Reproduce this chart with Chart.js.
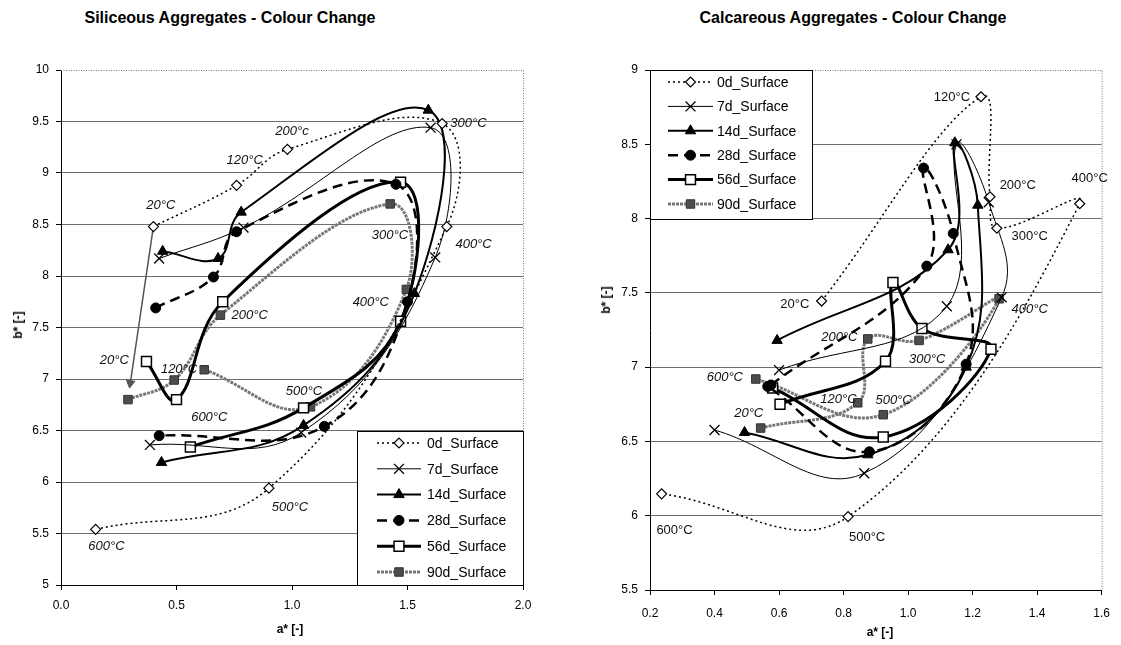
<!DOCTYPE html>
<html lang="en">
<head>
<meta charset="UTF-8" />
<title>Aggregates - Colour Change</title>
<script src="https://cdn.jsdelivr.net/npm/chart.js"></script>
<style>
  body { margin: 0; background: #fff; font-family: "Liberation Sans", Arial, sans-serif; }
  #wrap { position: relative; width: 1121px; height: 645px; overflow: hidden; }
  canvas { position: absolute; top: 0; }
  .ttl { position: absolute; font-weight: bold; font-size: 16px; line-height: 18px; white-space: nowrap; transform: translateX(-50%); }
  .ax { position: absolute; font-weight: bold; font-size: 12px; line-height: 14px; white-space: nowrap; transform: translate(-50%, -50%); }
  .ax.rot { transform: translate(-50%, -50%) rotate(-90deg); }
</style>
</head>
<body>
<div id="wrap">
  <div class="ttl" style="left:230px;top:9px">Siliceous Aggregates - Colour Change</div>
  <div class="ttl" style="left:853px;top:9px">Calcareous Aggregates - Colour Change</div>
  <canvas id="sil" width="560" height="645" style="left:0"></canvas>
  <canvas id="cal" width="561" height="645" style="left:560px"></canvas>
  <div class="ax rot" style="left:18px;top:325px">b* [-]</div>
  <div class="ax" style="left:290px;top:629px">a* [-]</div>
  <div class="ax rot" style="left:606px;top:300px">b* [-]</div>
  <div class="ax" style="left:880px;top:632px">a* [-]</div>
</div>

<script>
// series names (curing age of the surface samples)
const seriesNames = ["0d_Surface", "7d_Surface", "14d_Surface", "28d_Surface", "56d_Surface", "90d_Surface"];

// ---- Siliceous aggregates: a* / b* per heating step (20 -> 600 °C) ----
const silA0d = [0.40, 0.76, 0.98, 1.65, 1.67, 0.90, 0.15];
const silB0d = [8.48, 8.88, 9.23, 9.48, 8.48, 5.94, 5.54];
const silA7d = [0.425, 0.79, 1.60, 1.62, 1.04, 0.385];
const silB7d = [8.17, 8.47, 9.44, 8.18, 6.48, 6.36];
const silA14d = [0.44, 0.68, 0.78, 1.59, 1.53, 1.05, 0.435];
const silB14d = [8.24, 8.17, 8.62, 9.61, 7.83, 6.55, 6.19];
const silA28d = [0.41, 0.66, 0.76, 1.45, 1.50, 1.14, 0.425];
const silB28d = [7.69, 7.99, 8.43, 8.89, 7.75, 6.54, 6.45];
const silA56d = [0.37, 0.50, 0.70, 1.47, 1.47, 1.05, 0.56];
const silB56d = [7.17, 6.80, 7.75, 8.91, 7.56, 6.72, 6.34];
const silA90d = [0.29, 0.49, 0.69, 1.425, 1.495, 1.08, 0.62];
const silB90d = [6.80, 6.99, 7.62, 8.70, 7.87, 6.73, 7.09];
const silArrowA = [0.40, 0.30];
const silArrowB = [8.48, 6.96];

const silLabelText = ["20°C", "120°C", "200°c", "300°C", "300°C", "400°C", "400°C", "20°C", "120°C", "200°C", "600°C", "500°C", "500°C", "600°C"];
const silLabelA = [0.432, 0.795, 1.00, 1.764, 1.424, 1.786, 1.341, 0.231, 0.511, 0.817, 0.642, 1.052, 0.991, 0.197];
const silLabelB = [8.69, 9.12, 9.40, 9.48, 8.39, 8.31, 7.74, 7.18, 7.09, 7.62, 6.63, 6.88, 5.75, 5.37];

// ---- Calcareous aggregates ----
const calA0d = [0.732, 1.226, 1.254, 1.275, 1.532, 0.814, 0.236];
const calB0d = [7.445, 8.82, 8.147, 7.935, 8.10, 5.994, 6.147];
const calA7d = [0.60, 1.12, 1.15, 1.25, 1.29, 0.864, 0.40];
const calB7d = [6.98, 7.41, 8.50, 8.11, 7.47, 6.286, 6.577];
const calA14d = [0.594, 1.124, 1.145, 1.216, 1.18, 0.875, 0.493];
const calB14d = [7.18, 7.79, 8.51, 8.09, 7.00, 6.41, 6.56];
const calA28d = [0.575, 1.058, 1.048, 1.14, 1.18, 0.88, 0.565];
const calB28d = [6.88, 7.68, 8.34, 7.90, 7.02, 6.43, 6.87];
const calA56d = [0.603, 0.93, 0.953, 1.043, 1.257, 0.923, 0.58];
const calB56d = [6.75, 7.04, 7.57, 7.26, 7.12, 6.53, 6.86];
const calA90d = [0.543, 0.844, 0.875, 1.034, 1.282, 0.923, 0.528];
const calB90d = [6.59, 6.76, 7.19, 7.18, 7.46, 6.68, 6.92];

const calLabelText = ["120°C", "200°C", "400°C", "300°C", "20°C", "200°C", "600°C", "120°C", "500°C", "300°C", "400°C", "20°C", "600°C", "500°C"];
const calLabelA = [1.136, 1.340, 1.563, 1.377, 0.649, 0.787, 0.432, 0.784, 0.955, 1.059, 1.377, 0.506, 0.276, 0.873];
const calLabelB = [8.818, 8.226, 8.273, 7.883, 7.419, 7.203, 6.934, 6.786, 6.779, 7.055, 7.392, 6.692, 5.898, 5.851];
const calLabelItalic = [0, 0, 0, 0, 0, 1, 1, 1, 1, 1, 1, 1, 0, 0];

const FONT = '"Liberation Sans", Arial, sans-serif';

// line + marker look of each series
const seriesStyles = [
  { borderColor: "#000", borderWidth: 1.5, borderDash: [2, 3], pointStyle: "rectRot", pointRadius: 5, pointBackgroundColor: "#fff", pointBorderColor: "#000", pointBorderWidth: 1.2 },
  { borderColor: "#000", borderWidth: 1, borderDash: [], pointStyle: "crossRot", pointRadius: 7, pointBackgroundColor: "#000", pointBorderColor: "#000", pointBorderWidth: 1.3 },
  { borderColor: "#000", borderWidth: 2, borderDash: [], pointStyle: "triangle", pointRadius: 6, pointBackgroundColor: "#000", pointBorderColor: "#000", pointBorderWidth: 1 },
  { borderColor: "#000", borderWidth: 2.5, borderDash: [10, 6], pointStyle: "circle", pointRadius: 5, pointBackgroundColor: "#000", pointBorderColor: "#000", pointBorderWidth: 1 },
  { borderColor: "#000", borderWidth: 3, borderDash: [], pointStyle: "rect", pointRadius: 7, pointBackgroundColor: "#fff", pointBorderColor: "#000", pointBorderWidth: 1.5 },
  { borderColor: "#777", borderWidth: 3, borderDash: [3, 1], pointStyle: "rect", pointRadius: 6, pointBackgroundColor: "#4d4d4d", pointBorderColor: "#333", pointBorderWidth: 1 },
];

function toPoints(as, bs) {
  return as.map((a, i) => ({ x: a, y: bs[i] }));
}

function buildSeries(aLists, bLists) {
  return seriesNames.map((name, i) => ({
    label: name,
    data: toPoints(aLists[i], bLists[i]),
    showLine: true,
    tension: 0.4,
    ...seriesStyles[i],
    pointHoverRadius: seriesStyles[i].pointRadius,
  }));
}

// dotted frame on top / right edge of the plot area
const framePlugin = {
  id: "frame",
  beforeDatasetsDraw(chart) {
    const { ctx, chartArea: { left, right, top, bottom } } = chart;
    ctx.save();
    ctx.strokeStyle = "#777";
    ctx.lineWidth = 1;
    ctx.setLineDash([1, 1.5]);
    ctx.beginPath();
    ctx.moveTo(left, top + 0.5);
    ctx.lineTo(right + 0.5, top + 0.5);
    ctx.lineTo(right + 0.5, bottom);
    ctx.stroke();
    ctx.restore();
  },
};

// temperature tags next to the points
const tempLabelPlugin = {
  id: "tempLabels",
  afterDatasetsDraw(chart, args, opts) {
    const { ctx, scales: { x, y } } = chart;
    ctx.save();
    ctx.fillStyle = "#111";
    ctx.textAlign = "center";
    ctx.textBaseline = "middle";
    opts.text.forEach((t, i) => {
      ctx.font = (opts.italic[i] ? "italic " : "") + "13px " + FONT;
      ctx.fillText(t, x.getPixelForValue(opts.a[i]), y.getPixelForValue(opts.b[i]));
    });
    ctx.restore();
  },
};

// boxed legend placed inside the plot
const boxLegendPlugin = {
  id: "boxLegend",
  afterDatasetsDraw(chart, args, o) {
    const { ctx } = chart;
    ctx.save();
    ctx.fillStyle = "#fff";
    ctx.fillRect(o.x, o.y, o.w, o.h);
    ctx.strokeStyle = "#000";
    ctx.lineWidth = 1;
    ctx.setLineDash([]);
    ctx.strokeRect(o.x + 0.5, o.y + 0.5, o.w, o.h);
    const sets = chart.data.datasets.filter((d) => d.label);
    sets.forEach((ds, i) => {
      const cy = o.rowY + i * o.rowH;
      ctx.save();
      ctx.strokeStyle = ds.borderColor;
      ctx.lineWidth = ds.borderWidth;
      ctx.setLineDash(ds.borderDash || []);
      ctx.beginPath();
      ctx.moveTo(o.lineX0, cy);
      ctx.lineTo(o.lineX1, cy);
      ctx.stroke();
      ctx.setLineDash([]);
      ctx.fillStyle = ds.pointBackgroundColor;
      ctx.strokeStyle = ds.pointBorderColor;
      ctx.lineWidth = ds.pointBorderWidth;
      Chart.helpers.drawPoint(ctx, { pointStyle: ds.pointStyle, radius: ds.pointRadius, rotation: 0, borderWidth: ds.pointBorderWidth }, (o.lineX0 + o.lineX1) / 2, cy);
      ctx.restore();
      ctx.fillStyle = "#000";
      ctx.font = "14px " + FONT;
      ctx.textAlign = "left";
      ctx.textBaseline = "middle";
      ctx.fillText(ds.label, o.textX, cy + 1);
    });
    ctx.restore();
  },
};

function makeChart(id, cfg) {
  const gridColor = (c) => (c.tick && Math.abs(c.tick.value - cfg.yMax) < 1e-6 ? "rgba(0,0,0,0)" : "#6e6e6e");
  return new Chart(document.getElementById(id), {
    type: "scatter",
    data: { datasets: cfg.datasets },
    options: {
      responsive: false,
      animation: false,
      layout: { padding: cfg.padding },
      plugins: {
        legend: { display: false },
        tooltip: { enabled: false },
        tempLabels: cfg.labels,
        boxLegend: cfg.legend,
      },
      scales: {
        x: {
          type: "linear",
          min: cfg.xMin,
          max: cfg.xMax,
          afterFit: (s) => { s.height = cfg.xAxisH; },
          ticks: { stepSize: cfg.xStep, maxRotation: 0, color: "#000", padding: cfg.xPad, font: { size: 12, family: FONT }, callback: (v) => Number(v).toFixed(1) },
          grid: { drawOnChartArea: false, drawTicks: true, tickLength: 5, tickColor: "#000" },
          border: { display: true, color: "#000", width: 1 },
        },
        y: {
          type: "linear",
          min: cfg.yMin,
          max: cfg.yMax,
          afterFit: (s) => { s.width = cfg.yAxisW; },
          ticks: { stepSize: 0.5, color: "#000", padding: 7, font: { size: 12, family: FONT }, callback: (v) => String(Number(Number(v).toFixed(1))) },
          grid: { color: gridColor, lineWidth: 1, drawTicks: true, tickLength: 5, tickColor: "#000" },
          border: { display: true, color: "#000", width: 1 },
        },
      },
    },
    plugins: [framePlugin, tempLabelPlugin, boxLegendPlugin],
  });
}

// ---------- left: siliceous ----------
const silSets = buildSeries(
  [silA0d, silA7d, silA14d, silA28d, silA56d, silA90d],
  [silB0d, silB7d, silB14d, silB28d, silB56d, silB90d]
);
silSets.push({
  label: "",
  data: toPoints(silArrowA, silArrowB),
  showLine: true,
  tension: 0,
  borderColor: "#555",
  borderWidth: 1.5,
  pointStyle: "triangle",
  pointRadius: [0, 5],
  pointRotation: [0, 189],
  pointBackgroundColor: "#555",
  pointBorderColor: "#555",
  pointBorderWidth: 1,
});

makeChart("sil", {
  datasets: silSets,
  padding: { left: 0, top: 70, right: 37, bottom: 0 },
  xMin: 0, xMax: 2, xStep: 0.5, xPad: 8, xAxisH: 60,
  yMin: 5, yMax: 10, yAxisW: 61,
  labels: { text: silLabelText, a: silLabelA, b: silLabelB, italic: silLabelText.map(() => 1) },
  legend: { x: 357, y: 431, w: 166, h: 154, rowY: 443, rowH: 25.8, lineX0: 377, lineX1: 421, textX: 427 },
});

// ---------- right: calcareous ----------
makeChart("cal", {
  datasets: buildSeries(
    [calA0d, calA7d, calA14d, calA28d, calA56d, calA90d],
    [calB0d, calB7d, calB14d, calB28d, calB56d, calB90d]
  ),
  padding: { left: 0, top: 70, right: 12, bottom: 0 },
  xMin: 0.2, xMax: 1.6, xStep: 0.2, xPad: 11, xAxisH: 55,
  yMin: 5.5, yMax: 9, yAxisW: 90,
  labels: { text: calLabelText, a: calLabelA, b: calLabelB, italic: calLabelItalic },
  legend: { x: 90, y: 70, w: 162, h: 149, rowY: 82, rowH: 24.4, lineX0: 108, lineX1: 153, textX: 157 },
});
</script>
</body>
</html>
